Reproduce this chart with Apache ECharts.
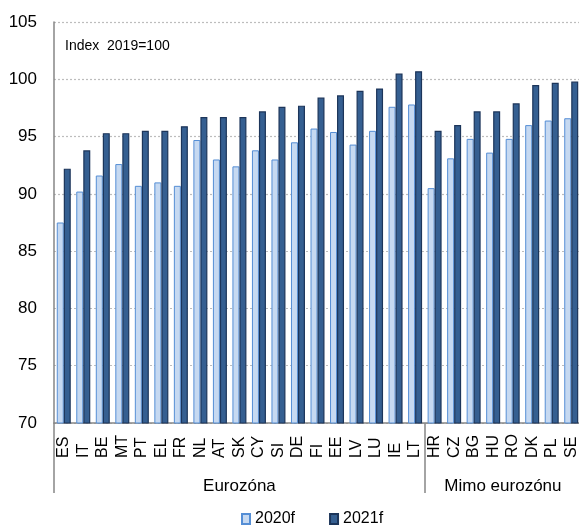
<!DOCTYPE html>
<html>
<head>
<meta charset="utf-8">
<script src="https://cdn.jsdelivr.net/npm/echarts@6/dist/echarts.min.js"></script>
<style>
html,body{margin:0;padding:0;background:#fff;}
#c{width:579px;height:525px;}
</style>
</head>
<body>
<div id="c"></div>
<script>
const categories = ['ES','IT','BE','MT','PT','EL','FR','NL','AT','SK','CY','SI','DE','FI','EE','LV','LU','IE','LT','HR','CZ','BG','HU','RO','DK','PL','SE'];
const values2020 = [87.5,90.2,91.6,92.6,90.7,91.0,90.7,94.7,93.0,92.4,93.8,93.0,94.5,95.7,95.4,94.3,95.5,97.6,97.8,90.5,93.1,94.8,93.6,94.8,96.0,96.4,96.6];
const values2021 = [92.2,93.8,95.3,95.3,95.5,95.5,95.9,96.7,96.7,96.7,97.2,97.6,97.7,98.4,98.6,99.0,99.2,100.5,100.7,95.5,96.0,97.2,97.2,97.9,99.5,99.7,99.8];
const groupNames = ['Eurozóna','Mimo eurozónu'];
const groupStarts = [0,19];
const groupEnds = [18,26];
const seriesNames = ['2020f','2021f'];
const yTicks = {min:70, max:105, interval:5};
const noteText = 'Index  2019=100';

const chart = echarts.init(document.getElementById('c'), null, {renderer:'canvas'});
const font = 'Liberation Sans, Arial, sans-serif';
chart.setOption({
  animation:false,
  backgroundColor:'#ffffff',
  grid:{left:54, right:-2, top:22, bottom:102, containLabel:false, outerBoundsMode:'none'},
  legend:{
    data:seriesNames, top:506, left:236, itemWidth:8, itemHeight:10, itemGap:34, icon:'rect',
    textStyle:{fontFamily:font, fontSize:16, color:'#000'}
  },
  xAxis:{
    type:'category', data:categories,
    axisLine:{lineStyle:{color:'#868686', width:1.5}},
    axisTick:{show:true, length:70, interval:function(i){return groupStarts.indexOf(i)>=0;}, lineStyle:{color:'#868686', width:1.5}},
    axisLabel:{interval:0, rotate:90, align:'left', verticalAlign:'middle', margin:35, fontFamily:font, fontSize:16, color:'#000'}
  },
  yAxis:{
    type:'value', min:yTicks.min, max:yTicks.max, interval:yTicks.interval,
    axisLine:{show:true, lineStyle:{color:'#868686', width:1.5}},
    axisTick:{show:false},
    axisLabel:{margin:17, fontFamily:font, fontSize:17, color:'#000'},
    splitLine:{show:true, lineStyle:{color:'#bdbdbd', type:[2,2], width:1.2}}
  },
  series:[
    {name:seriesNames[0], type:'bar', data:values2020, barWidth:7, barGap:'0%',
     itemStyle:{color:'#c6d9f1', borderColor:'#558ed5', borderWidth:1}},
    {name:seriesNames[1], type:'bar', data:values2021, barWidth:7,
     itemStyle:{color:'#355f91', borderColor:'#1c355a', borderWidth:1.2}}
  ]
});

const graphics = [{
  type:'text', left:65, top:39,
  style:{text:noteText, fontFamily:font, fontSize:14, fill:'#000'}
}];
for (let g=0; g<groupNames.length; g++) {
  const x0 = chart.convertToPixel({xAxisIndex:0}, categories[groupStarts[g]]);
  const x1 = chart.convertToPixel({xAxisIndex:0}, categories[groupEnds[g]]);
  graphics.push({
    type:'text', x:(x0+x1)/2, y:486,
    style:{text:groupNames[g], fontFamily:font, fontSize:17, fill:'#000', align:'center', verticalAlign:'middle'}
  });
}
chart.setOption({graphic:graphics});
</script>
</body>
</html>
